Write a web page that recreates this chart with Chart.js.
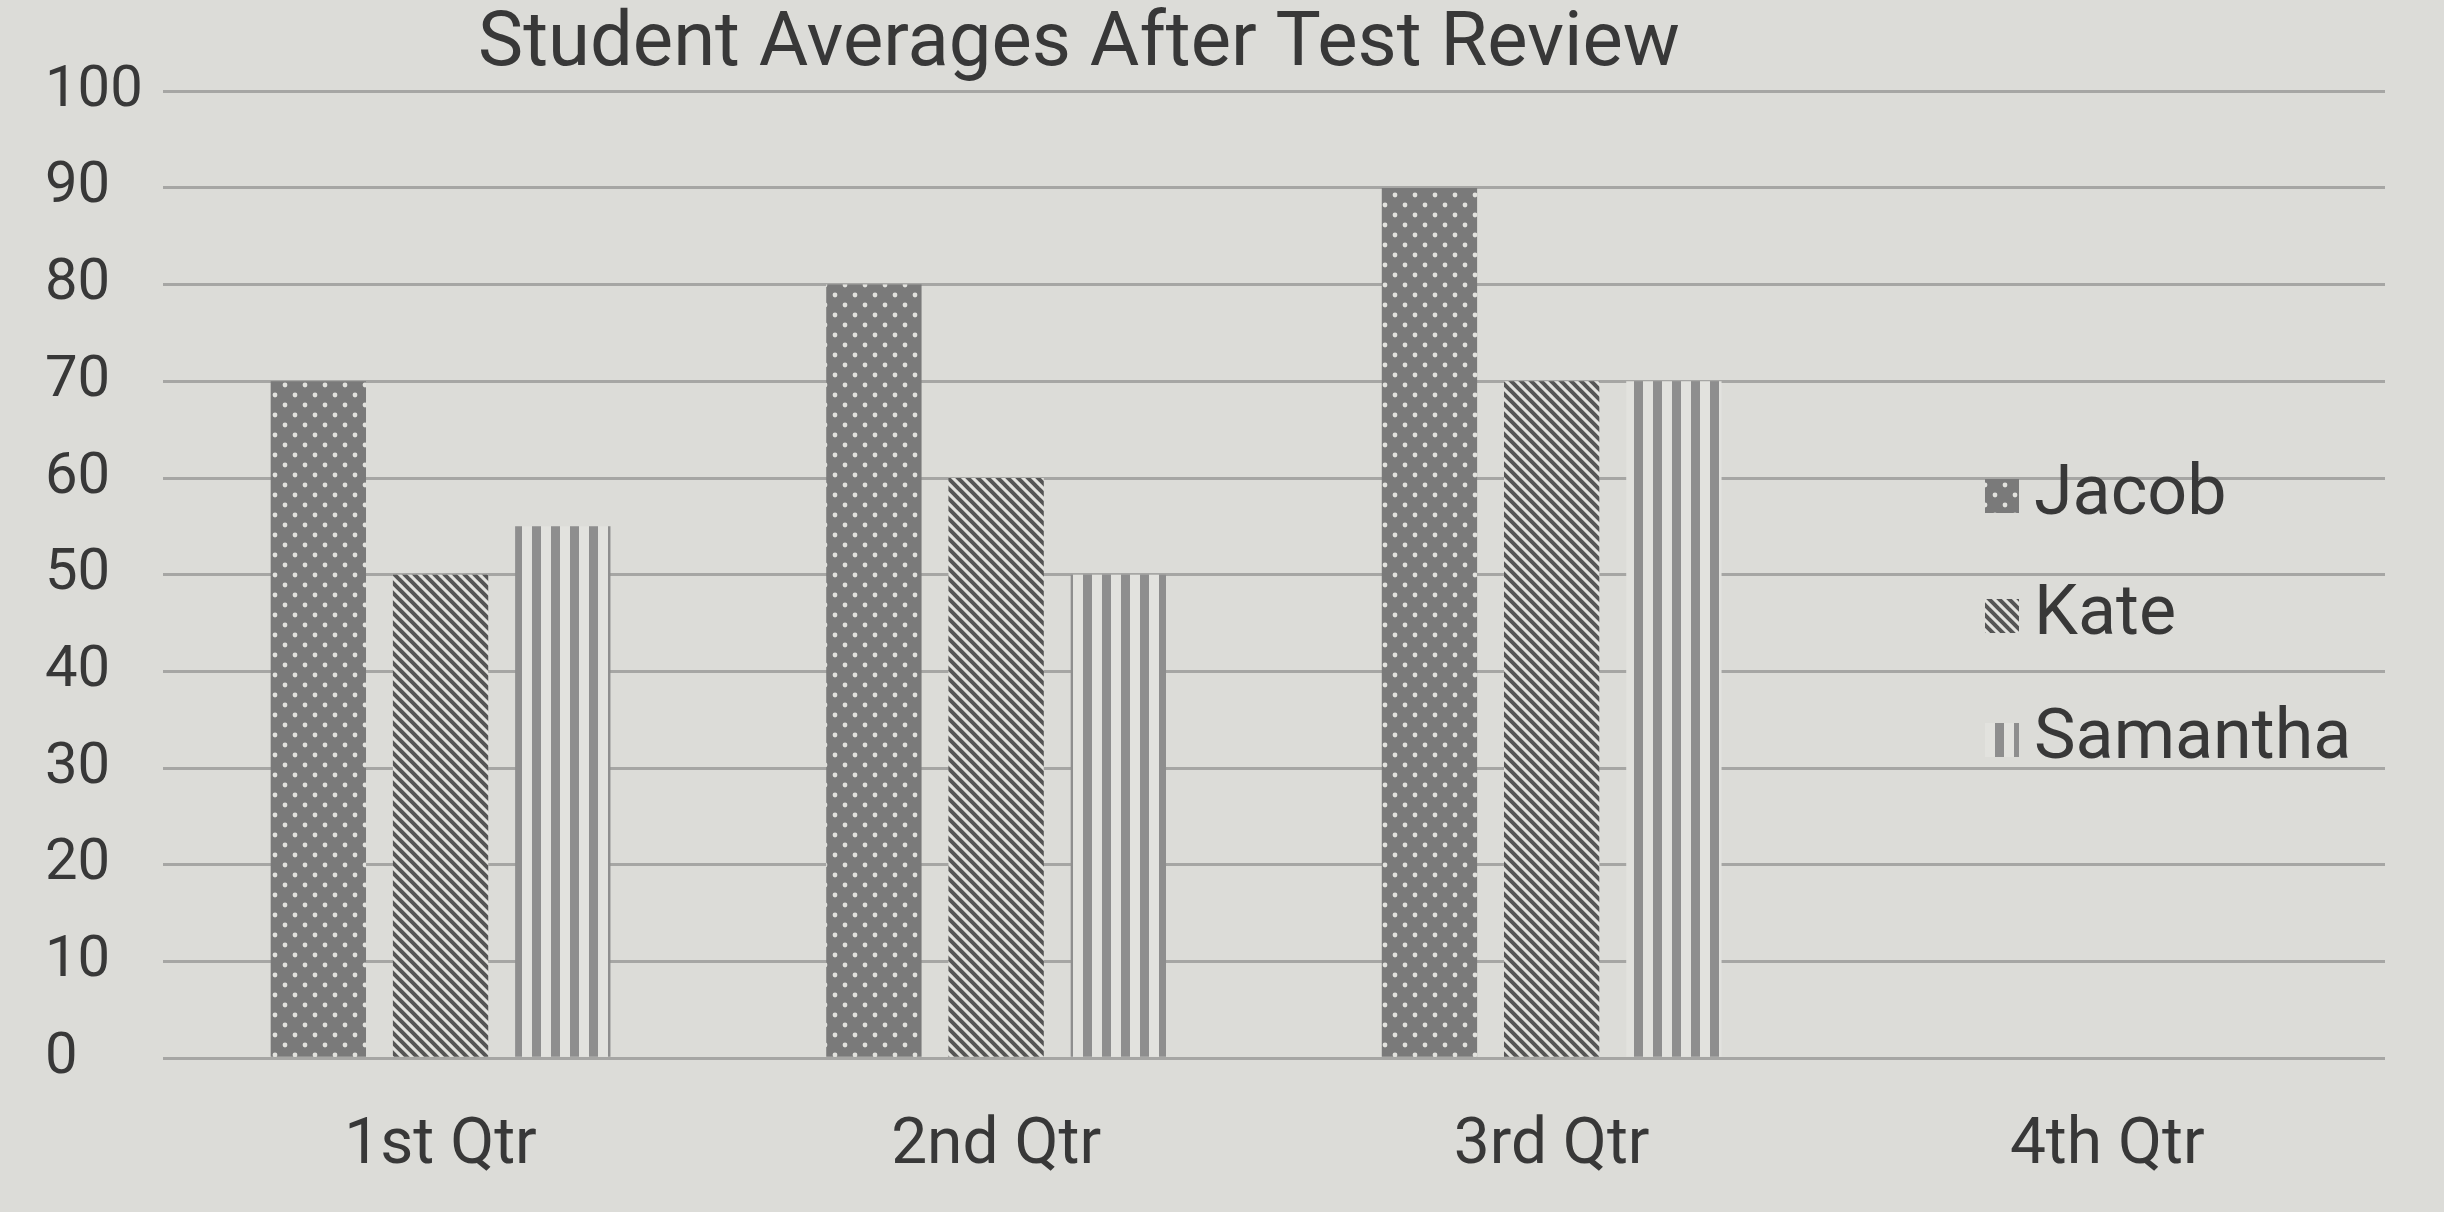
<!DOCTYPE html>
<html><head><meta charset="utf-8">
<script src="https://cdn.jsdelivr.net/npm/chart.js@4.4.1/dist/chart.umd.min.js"></script>
<style>
html,body{margin:0;padding:0;background:#dcdcd8;}
#wrap{width:2444px;height:1212px;position:relative;}
</style>
</head><body>
<div id="wrap"><canvas id="c" width="2444" height="1212"></canvas></div>
<script>
const chartTitle = 'Student Averages After Test Review';
const categories = ['1st Qtr', '2nd Qtr', '3rd Qtr', '4th Qtr'];
const seriesNames = ['Jacob', 'Kate', 'Samantha'];
const jacob = [70, 80, 90, null];
const kate = [50, 60, 70, null];
const samantha = [55, 50, 70, null];
const yTicks = [0, 10, 20, 30, 40, 50, 60, 70, 80, 90, 100];

const TEXT = '#383838';
const canvas = document.getElementById('c');
const ctx = canvas.getContext('2d');

function tile(w, h, draw) {
  const c = document.createElement('canvas');
  c.width = w; c.height = h;
  const g = c.getContext('2d');
  draw(g, w, h);
  return ctx.createPattern(c, 'repeat');
}
const dotPattern = tile(20, 20, (g, w, h) => {
  g.fillStyle = '#7a7a7a'; g.fillRect(0, 0, w, h);
  g.fillStyle = '#e2e2de';
  [[5, 5], [15, 15]].forEach(([x, y]) => { g.beginPath(); g.arc(x, y, 2.4, 0, Math.PI * 2); g.fill(); });
});
const diagPattern = tile(10, 10, (g, w, h) => {
  g.fillStyle = '#e2e2de'; g.fillRect(0, 0, w, h);
  g.strokeStyle = '#555555'; g.lineWidth = 4;
  for (let k = -2; k <= 2; k++) {
    g.beginPath(); g.moveTo(-10, -10 + k * 10); g.lineTo(20, 20 + k * 10); g.stroke();
  }
});
const vertPattern = tile(19, 10, (g, w, h) => {
  g.fillStyle = '#e2e2de'; g.fillRect(0, 0, w, h);
  g.fillStyle = '#8e8e8e'; g.fillRect(0, 0, 9, h);
});
const fills = [dotPattern, diagPattern, vertPattern];
const seriesData = [jacob, kate, samantha];

const legendPlugin = {
  id: 'sideLegend',
  afterDraw(chart) {
    const c = chart.ctx;
    const rows = [496, 616, 740];
    const sx = 1985, size = 34, tx = 2034;
    c.save();
    c.font = '70px Roboto';
    c.textBaseline = 'middle';
    c.textAlign = 'left';
    seriesNames.forEach((name, i) => {
      c.fillStyle = fills[i];
      c.fillRect(sx, rows[i] - size / 2, size, size);
      c.fillStyle = TEXT;
      c.fillText(name, tx, rows[i]);
    });
    c.restore();
  }
};
const titleShift = {
  id: 'titleShift',
  afterLayout(chart) {
    if (chart.titleBlock) { chart.titleBlock.left = 0; chart.titleBlock.right = 2158; }
  }
};

new Chart(canvas, {
  type: 'bar',
  data: {
    labels: categories,
    datasets: seriesNames.map((n, i) => ({
      label: n,
      data: seriesData[i],
      backgroundColor: fills[i],
      borderWidth: 0,
      categoryPercentage: 0.66,
      barPercentage: 0.78
    }))
  },
  options: {
    responsive: false,
    animation: false,
    layout: { padding: { left: 45, right: 59, top: 0, bottom: -15 } },
    plugins: {
      legend: { display: false },
      tooltip: { enabled: false },
      title: {
        display: true, text: chartTitle, color: TEXT,
        font: { family: 'Roboto', size: 76, weight: 'normal' },
        padding: { top: 0, bottom: 0 }
      }
    },
    scales: {
      x: {
        grid: { display: false },
        border: { display: false },
        ticks: { color: TEXT, font: { family: 'Roboto', size: 64 }, padding: 42, maxRotation: 0 }
      },
      y: {
        min: 0, max: 100,
        afterBuildTicks: (s) => { s.ticks = yTicks.map(v => ({ value: v })); },
        grid: { color: '#a6a6a4', lineWidth: 3, drawTicks: false },
        border: { display: false },
        ticks: { color: TEXT, font: { family: 'Roboto', size: 58 }, padding: 10, crossAlign: 'far' }
      }
    }
  },
  plugins: [legendPlugin, titleShift]
});
</script>
</body></html>
